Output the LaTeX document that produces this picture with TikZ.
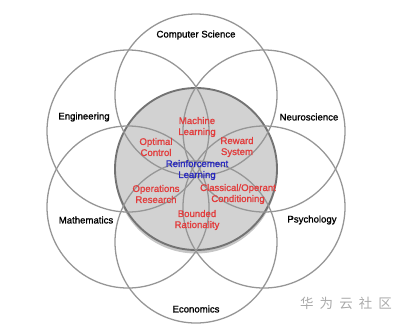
\documentclass[tikz,border=0pt]{standalone}
\usepackage{fontspec}
\setmainfont{Liberation Sans}[RawFeature={embolden=1.2}]
\newfontfamily\cjkfont{Noto Sans CJK SC}
\usetikzlibrary{shadows}

\definecolor{ringgray}{RGB}{150,150,150}
\definecolor{corefill}{RGB}{210,210,210}
\definecolor{coreedge}{RGB}{115,115,115}
\definecolor{topicred}{RGB}{226,60,60}
\definecolor{rlblue}{RGB}{40,40,190}
\definecolor{markgray}{RGB}{170,170,170}

\begin{document}
\begin{tikzpicture}[
        x=0.03cm, y=-0.03cm,
        ring/.style={draw=ringgray, line width=1.1pt},
        core/.style={draw=coreedge, line width=1.6pt, fill=corefill, drop shadow={shadow xshift=0pt, shadow yshift=-3pt, opacity=0.45}},
        field/.style={font=\fontsize{8.2}{9.4}\selectfont, align=center, inner sep=1pt},
        topic/.style={field, text=topicred}
    ]
        \useasboundingbox (0,0) rectangle (400,326);

        % Core circle
        \path[core] (196,169) circle (81);

        % Outer circles
        \foreach \cx/\cy in {196/95, 264/131, 264/207, 196/242, 128/207, 128/131}
            \draw[ring] (\cx,\cy) circle (81);

        % Fields
        \node[field] (cs) at (196,35) {Computer Science};
        \node[field] (eng) at (84,117) {Engineering};
        \node[field] (neuro) at (309,117) {Neuroscience};
        \node[field] (math) at (86,220) {Mathematics};
        \node[field] (psych) at (312,220) {Psychology};
        \node[field] (econ) at (196,309) {Economics};

        % Topics
        \node[topic] (ml) at (197,127) {Machine\\Learning};
        \node[topic] (oc) at (156,147) {Optimal\\Control};
        \node[topic] (rs) at (237,147) {Reward\\System};
        \node[field, text=rlblue] (rl) at (197,170) {Reinforcement\\Learning};
        \node[topic] (or) at (156,194) {Operations\\Research};
        \node[topic] (co) at (238,194) {Classical/Operant\\Conditioning};
        \node[topic] (br) at (197,220) {Bounded\\Rationality};

        % Watermark
        \node[text=markgray, font=\cjkfont\fontsize{11.5}{12}\selectfont] (mark) at (346,303) {华\hspace{.45em}为\hspace{.45em}云\hspace{.45em}社\hspace{.45em}区};
    \end{tikzpicture}
\end{document}
